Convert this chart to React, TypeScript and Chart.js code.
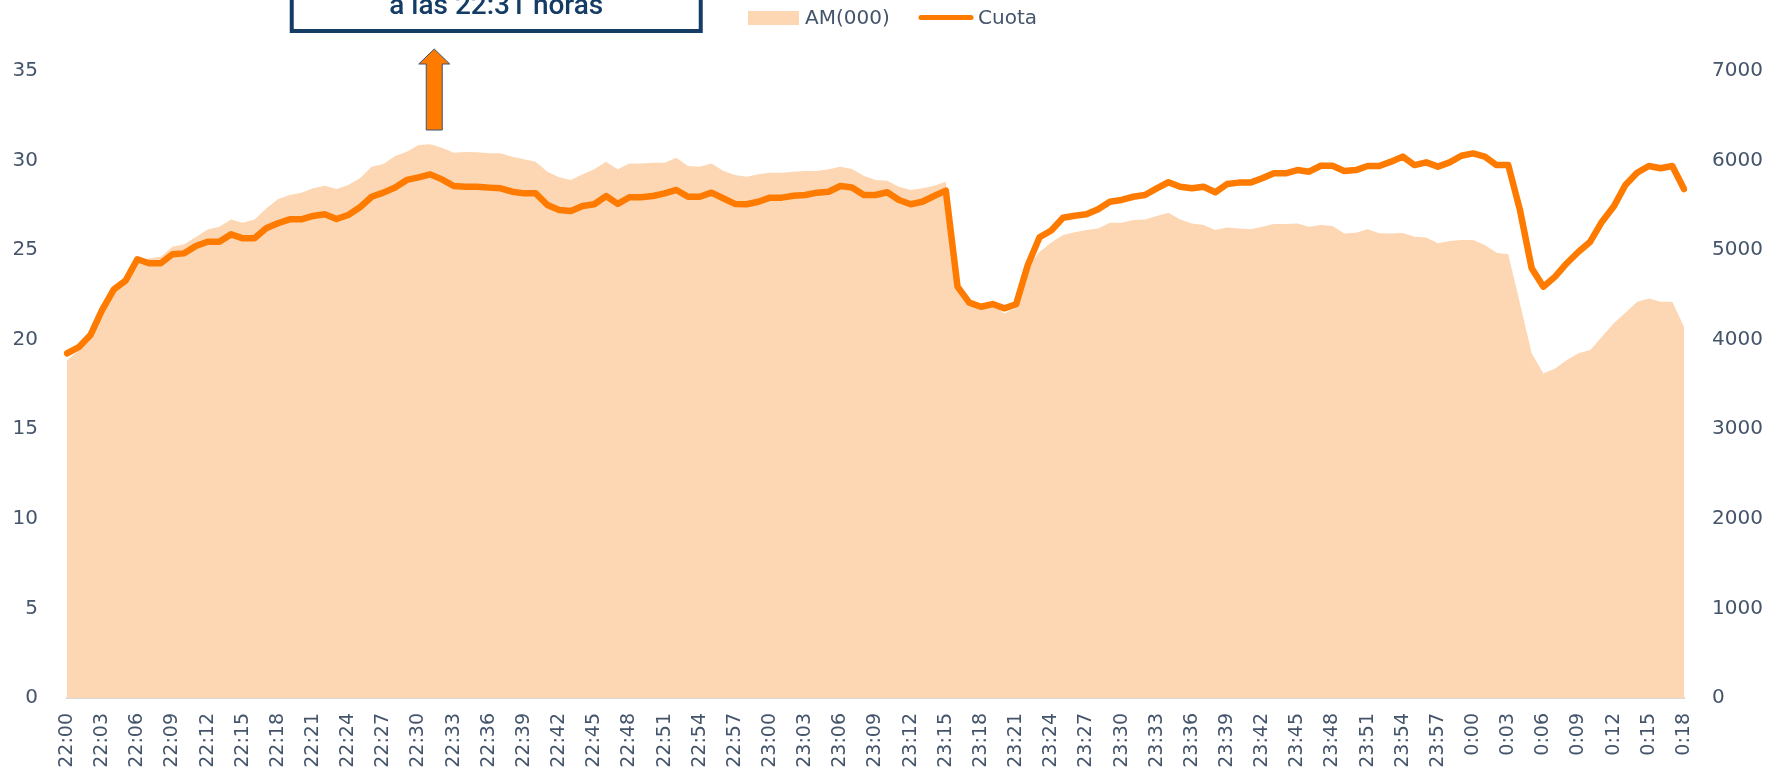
import React, { useEffect, useRef } from "react";
import { Chart, registerables } from "chart.js";

Chart.register(...registerables);

const categories = [
  "22:00","22:01","22:02","22:03","22:04","22:05","22:06","22:07","22:08","22:09",
  "22:10","22:11","22:12","22:13","22:14","22:15","22:16","22:17","22:18","22:19",
  "22:20","22:21","22:22","22:23","22:24","22:25","22:26","22:27","22:28","22:29",
  "22:30","22:31","22:32","22:33","22:34","22:35","22:36","22:37","22:38","22:39",
  "22:40","22:41","22:42","22:43","22:44","22:45","22:46","22:47","22:48","22:49",
  "22:50","22:51","22:52","22:53","22:54","22:55","22:56","22:57","22:58","22:59",
  "23:00","23:01","23:02","23:03","23:04","23:05","23:06","23:07","23:08","23:09",
  "23:10","23:11","23:12","23:13","23:14","23:15","23:16","23:17","23:18","23:19",
  "23:20","23:21","23:22","23:23","23:24","23:25","23:26","23:27","23:28","23:29",
  "23:30","23:31","23:32","23:33","23:34","23:35","23:36","23:37","23:38","23:39",
  "23:40","23:41","23:42","23:43","23:44","23:45","23:46","23:47","23:48","23:49",
  "23:50","23:51","23:52","23:53","23:54","23:55","23:56","23:57","23:58","23:59",
  "0:00","0:01","0:02","0:03","0:04","0:05","0:06","0:07","0:08","0:09",
  "0:10","0:11","0:12","0:13","0:14","0:15","0:16","0:17","0:18"
];

// AM(000) — right axis (area)
const amValues = [
  3772, 3880, 4030, 4310, 4540, 4640, 4870, 4908, 4926, 5037,
  5067, 5148, 5230, 5260, 5343, 5305, 5343, 5466, 5567, 5615,
  5641, 5690, 5719, 5682, 5727, 5802, 5931, 5961, 6050, 6099,
  6174, 6182, 6144, 6088, 6096, 6093, 6081, 6081, 6043, 6014,
  5988, 5876, 5813, 5783, 5847, 5902, 5988, 5902, 5968, 5968,
  5976, 5976, 6032, 5939, 5931, 5968, 5885, 5839, 5820, 5847,
  5865, 5865, 5876, 5884, 5884, 5902, 5931, 5906, 5831, 5783,
  5775, 5708, 5671, 5690, 5719, 5764, 4555, 4392, 4346, 4376,
  4292, 4357, 4815, 4983, 5085, 5169, 5199, 5225, 5243, 5306,
  5306, 5336, 5343, 5381, 5418, 5343, 5298, 5280, 5225, 5254,
  5243, 5232, 5261, 5291, 5291, 5298, 5261, 5280, 5269, 5187,
  5195, 5232, 5189, 5187, 5191, 5150, 5142, 5076, 5102, 5113,
  5113, 5057, 4971, 4953, 4406, 3848, 3624, 3680, 3773, 3848,
  3885, 4034, 4183, 4301, 4424, 4461, 4424, 4424, 4145
];

// Cuota — left axis (line)
const cuotaValues = [
  19.24, 19.58, 20.26, 21.66, 22.81, 23.3, 24.49, 24.27, 24.27, 24.77,
  24.82, 25.23, 25.47, 25.47, 25.88, 25.66, 25.66, 26.22, 26.5, 26.72,
  26.72, 26.91, 27.0, 26.74, 26.96, 27.39, 27.98, 28.21, 28.5, 28.92,
  29.06, 29.23, 28.95, 28.58, 28.54, 28.54, 28.49, 28.45, 28.26, 28.17,
  28.17, 27.52, 27.24, 27.18, 27.46, 27.56, 28.02, 27.58, 27.95, 27.95,
  28.02, 28.17, 28.36, 27.98, 27.98, 28.21, 27.9, 27.58, 27.56, 27.7,
  27.93, 27.93, 28.04, 28.08, 28.21, 28.26, 28.58, 28.5, 28.08, 28.08,
  28.23, 27.8, 27.56, 27.7, 28.02, 28.32, 22.96, 22.07, 21.84, 21.99,
  21.75, 21.98, 24.17, 25.72, 26.1, 26.81, 26.92, 27.0, 27.28, 27.7,
  27.8, 27.98, 28.08, 28.45, 28.79, 28.54, 28.45, 28.54, 28.23, 28.69,
  28.77, 28.77, 29.01, 29.29, 29.29, 29.47, 29.38, 29.71, 29.71, 29.42,
  29.47, 29.7, 29.7, 29.94, 30.22, 29.75, 29.9, 29.66, 29.9, 30.27,
  30.4, 30.22, 29.75, 29.75, 27.24, 23.99, 22.96, 23.52, 24.27, 24.91,
  25.47, 26.59, 27.43, 28.64, 29.32, 29.7, 29.57, 29.7, 28.41
];

const leftAxisMax = 35;
const leftAxisStep = 5;
const rightAxisMax = 7000;
const rightAxisStep = 1000;
const labelEvery = 3;

const seriesNames = ["AM(000)", "Cuota"];
const annotationText = "a las 22:31 horas";
const annotationIndex = 31;

const TEXT = "#44546A";
const ORANGE = "#FF7B00";
const PEACH = "#FDD7B4";
const NAVY = "#143C64";
const AXIS_FONT = "'DejaVu Sans', sans-serif";

const overlayPlugin = {
  id: "overlay",
  afterDraw(chart: any) {
    const ctx = chart.ctx as CanvasRenderingContext2D;
    const area = chart.chartArea;
    const ax = chart.scales.x.getPixelForValue(annotationIndex) + 4;
    const top = area.top;

    ctx.save();
    // Arrow
    const tipY = top - 22;
    const baseY = top - 7;
    const bottomY = top + 59;
    const shaftHalf = 8;
    const headHalf = 15.5;
    ctx.beginPath();
    ctx.moveTo(ax, tipY);
    ctx.lineTo(ax + headHalf, baseY);
    ctx.lineTo(ax + shaftHalf, baseY);
    ctx.lineTo(ax + shaftHalf, bottomY);
    ctx.lineTo(ax - shaftHalf, bottomY);
    ctx.lineTo(ax - shaftHalf, baseY);
    ctx.lineTo(ax - headHalf, baseY);
    ctx.closePath();
    ctx.fillStyle = ORANGE;
    ctx.fill();
    ctx.lineWidth = 1;
    ctx.strokeStyle = "#3A5573";
    ctx.stroke();

    // Annotation box (top cut off by the frame)
    const bx = ax + 62;
    const bw = 409;
    ctx.fillStyle = "#FFFFFF";
    ctx.fillRect(bx - bw / 2, -30, bw, 61);
    ctx.lineWidth = 4;
    ctx.strokeStyle = NAVY;
    ctx.strokeRect(bx - bw / 2, -30, bw, 61);
    ctx.fillStyle = NAVY;
    ctx.font = "500 28px Roboto, sans-serif";
    ctx.textAlign = "center";
    ctx.textBaseline = "alphabetic";
    ctx.fillText(annotationText, bx, 14);

    // Legend
    ctx.fillStyle = PEACH;
    ctx.fillRect(748, 11, 51, 14);
    ctx.fillStyle = TEXT;
    ctx.font = "20px " + AXIS_FONT;
    ctx.textAlign = "left";
    ctx.textBaseline = "middle";
    ctx.fillText(seriesNames[0], 805, 19);
    ctx.beginPath();
    ctx.moveTo(921, 17.5);
    ctx.lineTo(971, 17.5);
    ctx.lineWidth = 5;
    ctx.lineCap = "round";
    ctx.strokeStyle = ORANGE;
    ctx.stroke();
    ctx.fillStyle = TEXT;
    ctx.fillText(seriesNames[1], 978, 19);
    ctx.restore();
  },
};

export default function App() {
  const canvasRef = useRef<HTMLCanvasElement | null>(null);

  useEffect(() => {
    if (!canvasRef.current) return;
    const chart = new Chart(canvasRef.current, {
      type: "line",
      data: {
        labels: categories,
        datasets: [
          {
            label: seriesNames[1],
            data: cuotaValues,
            yAxisID: "y",
            borderColor: ORANGE,
            backgroundColor: ORANGE,
            borderWidth: 6.5,
            pointRadius: 0,
            tension: 0,
            fill: false,
            borderJoinStyle: "round",
            borderCapStyle: "round",
          },
          {
            label: seriesNames[0],
            data: amValues,
            yAxisID: "y1",
            borderColor: PEACH,
            backgroundColor: PEACH,
            borderWidth: 0,
            pointRadius: 0,
            tension: 0,
            fill: "origin",
          },
        ],
      },
      options: {
        animation: false,
        responsive: true,
        maintainAspectRatio: false,
        devicePixelRatio: 1,
        layout: { padding: { top: 71, left: 0, right: 0, bottom: 0 } },
        plugins: {
          legend: { display: false },
          tooltip: { enabled: false },
          title: { display: false },
        },
        scales: {
          x: {
            type: "category",
            offset: false,
            grid: { display: false, drawTicks: false },
            border: { display: true, color: "#D9D9D9", width: 2 },
            ticks: {
              autoSkip: false,
              minRotation: 90,
              maxRotation: 90,
              padding: 15,
              color: TEXT,
              font: { family: AXIS_FONT, size: 19 },
              callback: (_v: any, i: number) => (i % labelEvery === 0 ? categories[i] : ""),
            },
            afterFit: (s: any) => {
              s.height = 76;
            },
          },
          y: {
            position: "left",
            min: 0,
            max: leftAxisMax,
            grid: { display: false, drawTicks: false },
            border: { display: false },
            ticks: {
              stepSize: leftAxisStep,
              padding: 29,
              color: TEXT,
              font: { family: AXIS_FONT, size: 20 },
              callback: (v: any) => String(v),
            },
            afterFit: (s: any) => {
              s.width = 67;
            },
          },
          y1: {
            position: "right",
            min: 0,
            max: rightAxisMax,
            grid: { display: false, drawTicks: false },
            border: { display: false },
            ticks: {
              stepSize: rightAxisStep,
              padding: 28,
              color: TEXT,
              font: { family: AXIS_FONT, size: 20 },
              callback: (v: any) => String(v),
            },
            afterFit: (s: any) => {
              s.width = 99;
            },
          },
        },
      },
      plugins: [overlayPlugin],
    } as any);
    return () => chart.destroy();
  }, []);

  return (
    <div style={{ position: "fixed", left: 0, top: 0, width: 1783, height: 774, background: "#FFFFFF" }}>
      <canvas ref={canvasRef} />
    </div>
  );
}
